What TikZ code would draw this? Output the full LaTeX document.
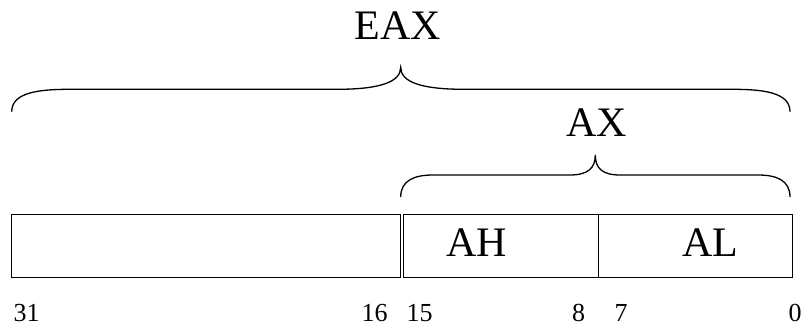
\documentclass[tikz,border=0pt]{standalone}
\usepackage{fontspec}
\setmainfont{Liberation Serif}
\begin{document}
\begin{tikzpicture}[x=1pt,y=-1pt,
  regbox/.style={draw,line width=1pt,inner sep=0pt,anchor=north west,minimum height=63pt},
  bigname/.style={inner sep=0pt,anchor=base,font=\fontsize{42}{48}\selectfont},
  bitnum/.style={inner sep=0pt,anchor=base,font=\fontsize{26}{30}\selectfont},
  brace/.style={line width=1.3pt}]
\useasboundingbox (0,0) rectangle (803,326);

% register fields
\node[regbox,minimum width=389pt] (upper) at (11,213.5) {};
\node[regbox,minimum width=194.5pt] (ah) at (403,213.5) {};
\node[regbox,minimum width=194pt] (al) at (597.5,213.5) {};

% field names
\node[bigname] (ahlbl) at (477,256.7) {AH};
\node[bigname] (allbl) at (710.5,256.7) {AL};
\node[bigname] (axlbl) at (596.5,137) {AX};
\node[bigname] (eaxlbl) at (397.5,39.3) {EAX};

% bit positions
\node[bitnum] (b31) at (26.5,321.5) {31};
\node[bitnum] (b16) at (374.5,321.5) {16};
\node[bitnum] (b15) at (419.5,321.5) {15};
\node[bitnum] (b8) at (578.5,321.5) {8};
\node[bitnum] (b7) at (621,321.5) {7};
\node[bitnum] (b0) at (795,321.5) {0};

% brace over the whole register
\draw[brace] (11.7,111.7) .. controls (11.7,92) and (40,89.3) .. (70,89.3) -- (337,89.3)
  .. controls (380,89.3) and (400.7,82) .. (400.7,67.3)
  .. controls (400.7,82) and (421,89.3) .. (464,89.3) -- (732,89.3)
  .. controls (762,89.3) and (790,92) .. (790,111.7);

% brace over the low word
\draw[brace] (400.7,197) .. controls (400.7,180) and (415,175) .. (433,175) -- (570,175)
  .. controls (588,175) and (595.3,168) .. (595.3,155)
  .. controls (595.3,168) and (602,175) .. (620,175) -- (758,175)
  .. controls (776,175) and (790,180) .. (790,197);
\end{tikzpicture}
\end{document}
